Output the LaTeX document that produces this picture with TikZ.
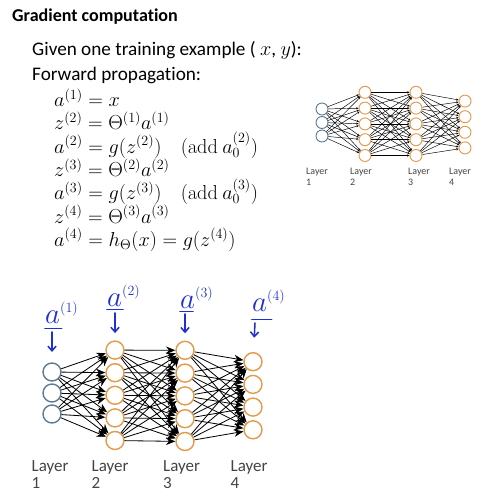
\documentclass[tikz,border=0pt]{standalone}
\usepackage[no-math]{fontspec}
\setmainfont[Ligatures=NoCommon]{Carlito}
\usetikzlibrary{arrows.meta}
\definecolor{inblue}{HTML}{5E7A95}
\definecolor{unitorange}{HTML}{E39A4B}
\definecolor{penblue}{HTML}{1F2FD0}
\definecolor{labelgray}{HTML}{444444}
\tikzset{
  bigunit/.style={circle, draw=#1, line width=1.2pt, fill=white, minimum size=0.54cm, inner sep=0pt},
  smallunit/.style={circle, draw=#1, line width=0.8pt, fill=white, minimum size=0.36cm, inner sep=0pt},
  bigedge/.style={line width=0.7pt, -{Stealth[length=8pt,width=6.5pt]}},
  smalledge/.style={line width=0.4pt, -{Stealth[length=2pt,width=1.8pt]}},
  biglabel/.style={anchor=north west, inner sep=0pt, align=left, text=labelgray, font=\fontsize{14.5}{14.5}\selectfont},
  smalllabel/.style={anchor=north west, inner sep=0pt, align=left, text=labelgray, font=\fontsize{8.5}{9.4}\selectfont},
  eqline/.style={anchor=base west, inner sep=0pt, font=\fontsize{16.5}{20}\selectfont},
  penlabel/.style={anchor=base west, inner sep=0pt, text=penblue, font=\fontsize{26}{26}\selectfont},
  penbar/.style={draw=penblue, line width=1.3pt, line cap=round},
  penarrow/.style={draw=penblue, line width=1.3pt, line cap=round, -{Straight Barb[length=4pt,width=7pt]}}
}
\begin{document}
\begin{tikzpicture}[x={(0.03cm,0)}, y={(0,-0.03cm)}]
	\useasboundingbox (0,0) rectangle (504,499);
	% Header
	\node[anchor=base west, inner sep=0pt, font=\fontsize{15.4}{18}\selectfont\bfseries] (title) at (12,21) {Gradient computation};
	\node[anchor=base west, inner sep=0pt, font=\fontsize{16.4}{19}\selectfont] (given) at (32,55) {Given one training example ( $x$, $y$):};
	\node[anchor=base west, inner sep=0pt, font=\fontsize{16.4}{19}\selectfont] (forward) at (32,80) {Forward propagation:};

	% Equations
	\node[eqline] (eq1) at (54,106.5) {$a^{(1)}=x$};
	\node[eqline] (eq2) at (54,129.8) {$z^{(2)}=\Theta^{(1)}a^{(1)}$};
	\node[eqline] (eq3) at (54,153.1) {$a^{(2)}=g(z^{(2)})\quad(\mathrm{add}\ a_0^{(2)})$};
	\node[eqline] (eq4) at (54,176.4) {$z^{(3)}=\Theta^{(2)}a^{(2)}$};
	\node[eqline] (eq5) at (54,199.7) {$a^{(3)}=g(z^{(3)})\quad(\mathrm{add}\ a_0^{(3)})$};
	\node[eqline] (eq6) at (54,223.0) {$z^{(4)}=\Theta^{(3)}a^{(3)}$};
	\node[eqline] (eq7) at (54,246.3) {$a^{(4)}=h_\Theta(x)=g(z^{(4)})$};

	% Small network
	\foreach \i in {1,...,3} \node[smallunit=inblue] (s1\i) at (322,95.5+13.5*\i) {};
	\foreach \i in {1,...,5} \node[smallunit=unitorange] (s2\i) at (365,76.5+15.8*\i) {};
	\foreach \i in {1,...,5} \node[smallunit=unitorange] (s3\i) at (416,76.5+15.8*\i) {};
	\foreach \i in {1,...,4} \node[smallunit=unitorange] (s4\i) at (465,85.5+15.6*\i) {};
	\foreach \i in {1,...,3} \foreach \j in {1,...,5} \draw[smalledge] (s1\i) -- (s2\j);
	\foreach \i in {1,...,5} \foreach \j in {1,...,5} \draw[smalledge] (s2\i) -- (s3\j);
	\foreach \i in {1,...,5} \foreach \j in {1,...,4} \draw[smalledge] (s3\i) -- (s4\j);
	\node[smalllabel] (sl1) at (306,168.3) {Layer\\1};
	\node[smalllabel] (sl2) at (350,168.3) {Layer\\2};
	\node[smalllabel] (sl3) at (408,168.3) {Layer\\3};
	\node[smalllabel] (sl4) at (449,168.3) {Layer\\4};

	% Big network
	\foreach \i in {1,...,3} \node[bigunit=inblue] (b1\i) at (52,351+21*\i) {};
	\foreach \i in {1,...,5} \node[bigunit=unitorange] (b2\i) at (115,327.5+22.6*\i) {};
	\foreach \i in {1,...,5} \node[bigunit=unitorange] (b3\i) at (185,327.5+22.8*\i) {};
	\foreach \i in {1,...,4} \node[bigunit=unitorange] (b4\i) at (253,339+22.7*\i) {};
	\foreach \i in {1,...,3} \foreach \j in {1,...,5} \draw[bigedge] (b1\i) -- (b2\j);
	\foreach \i in {1,...,5} \foreach \j in {1,...,5} \draw[bigedge] (b2\i) -- (b3\j);
	\foreach \i in {1,...,5} \foreach \j in {1,...,4} \draw[bigedge] (b3\i) -- (b4\j);
	\node[biglabel] (bl1) at (31.5,460.7) {Layer\\1};
	\node[biglabel] (bl2) at (91.5,460.7) {Layer\\2};
	\node[biglabel] (bl3) at (163,460.7) {Layer\\3};
	\node[biglabel] (bl4) at (230.5,460.7) {Layer\\4};

	% Handwritten notes
	\node[penlabel] (pa1) at (45,323) {$a^{\scriptscriptstyle(1)}$};
	\node[penlabel] (pa2) at (107,306) {$a^{\scriptscriptstyle(2)}$};
	\node[penlabel] (pa3) at (180,308) {$a^{\scriptscriptstyle(3)}$};
	\node[penlabel] (pa4) at (252,311.5) {$a^{\scriptscriptstyle(4)}$};
	\draw[penbar] (45,328.3) -- (61.7,328.3);
	\draw[penbar] (107,309.3) -- (123,309.3);
	\draw[penbar] (180,311.7) -- (193,311.7);
	\draw[penbar] (251.7,319.3) -- (271.7,319.3);
	\coordinate (p1) at (52,332);
	\coordinate (p2) at (115,313);
	\coordinate (p3) at (185,314);
	\coordinate (p4) at (255,323);
	\draw[penarrow, shorten >=0.31cm] (p1) -- (b11);
	\draw[penarrow, shorten >=0.22cm] (p2) -- (b21);
	\draw[penarrow, shorten >=0.22cm] (p3) -- (b31);
	\draw[penarrow, shorten >=0.43cm] (p4) -- (b41);
\end{tikzpicture}
\end{document}
